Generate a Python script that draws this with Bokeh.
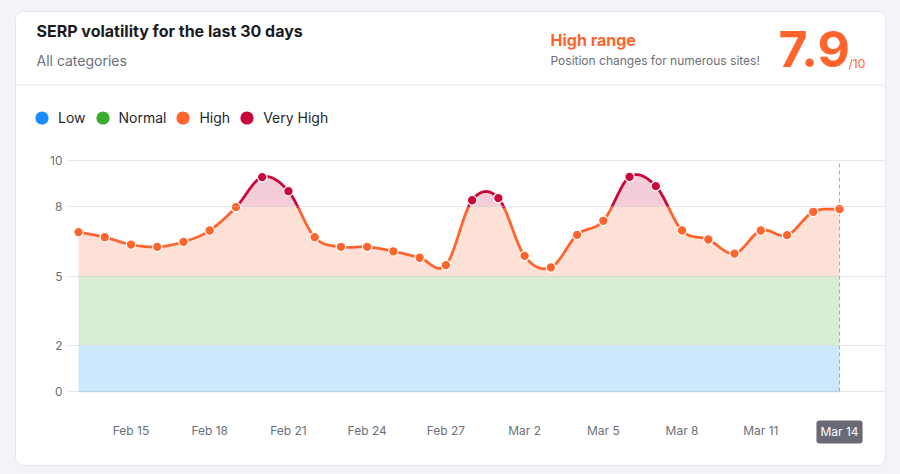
import numpy as np
import pandas as pd
from bokeh.plotting import figure
from bokeh.layouts import column
from bokeh.models import (Range1d, FixedTicker, Label, Span, Legend, LegendItem,
                          ColumnDataSource, DatetimeTickFormatter)
from bokeh.embed import file_html
from bokeh.resources import INLINE

# ---------------- data ----------------
start_date = "2025-02-13"
volatility = [6.90, 6.68, 6.36, 6.26, 6.48, 6.97, 7.98, 9.28, 8.67, 6.68,
              6.26, 6.26, 6.07, 5.79, 5.47, 8.28, 8.37, 5.87, 5.37, 6.78,
              7.39, 9.29, 8.89, 6.97, 6.58, 5.97, 6.97, 6.77, 7.78, 7.90]
tick_dates = ["2025-02-15", "2025-02-18", "2025-02-21", "2025-02-24", "2025-02-27",
              "2025-03-02", "2025-03-05", "2025-03-08", "2025-03-11", "2025-03-14"]
last_label = "Mar 14"
y_ticks = [0, 2, 5, 8, 10]
band_names = ["Low", "Normal", "High", "Very High"]
band_bounds = [0, 2, 5, 8, 10]
band_line_colors = ["#1a8cff", "#3bab2f", "#ff642d", "#c8073b"]
band_fill_colors = ["#cce8fd", "#d9edd4", "#fde0d6", "#f5cdd8"]
score = "7.9"

FONT = "Inter"
ORANGE = "#ff642d"
RED = "#c8073b"
GRAY = "#6b6f7a"
PAGE_BG = "#f3f4f8"

# card / layout geometry (canvas px)
CARD_L, CARD_T, CARD_R, CARD_B = 16, 12, 885, 465
CARD_W, CARD_H = CARD_R - CARD_L, CARD_B - CARD_T
SPLIT = 135                # header figure / chart figure boundary
PLOT_L, PLOT_R = 78, 839   # first / last day
Y0_PX, Y10_PX = 391, 160   # value 0 / value 10
FRAME_L = 66
XAXIS_PANEL = 20

# ---------------- data prep ----------------
dates = pd.date_range(start_date, periods=len(volatility), freq="D")
xs = (dates.astype("int64") // 10**6).to_numpy().astype(float)
ys = np.array(volatility)
ticks_ms = [int(pd.Timestamp(d).value // 10**6) for d in tick_dates]

# smooth curve (cubic Hermite / Catmull-Rom through the points)
n = len(ys)
m = np.empty(n)
m[1:-1] = (ys[2:] - ys[:-2]) / 2
m[0] = ys[1] - ys[0]
m[-1] = ys[-1] - ys[-2]
t = np.linspace(0, 1, 41)[:-1]
h00 = 2 * t**3 - 3 * t**2 + 1
h10 = t**3 - 2 * t**2 + t
h01 = -2 * t**3 + 3 * t**2
h11 = t**3 - t**2
cx_list, cy_list = [], []
for i in range(n - 1):
    cx_list.append(xs[i] + (xs[i + 1] - xs[i]) * t)
    cy_list.append(h00 * ys[i] + h10 * m[i] + h01 * ys[i + 1] + h11 * m[i + 1])
cx_list.append([xs[-1]])
cy_list.append([ys[-1]])
sx = np.concatenate(cx_list)
sy = np.concatenate(cy_list)

hi = band_bounds[3]
above = sy > hi
above_n = above | np.r_[above[1:], False] | np.r_[False, above[:-1]]
below = ~above
below_n = below | np.r_[below[1:], False] | np.r_[False, below[:-1]]
red_y = np.where(above_n, sy, np.nan)
orange_y = np.where(below_n, sy, np.nan)

# ---------------- header figure ----------------
hdr_h = SPLIT - CARD_T
hdr = figure(width=CARD_W, height=hdr_h, output_backend="svg", toolbar_location=None,
             x_range=Range1d(CARD_L, CARD_R), y_range=Range1d(SPLIT, CARD_T),
             x_axis_location=None, y_axis_location=None, min_border=0)
hdr.grid.visible = False
hdr.outline_line_color = None
hdr.background_fill_color = "white"
hdr.border_fill_color = "white"
hdr.add_layout(Span(location=84.5, dimension="width", line_color="#e6e7ec", line_width=1))


def lab(text, x, y, size, color, bold=False):
    hdr.add_layout(Label(x=x, y=y - 0.39 * size, text=text, text_font=FONT,
                         text_font_size=f"{size}px",
                         text_color=color, text_align="left",
                         text_baseline="alphabetic",
                         text_font_style="bold" if bold else "normal"))


lab("SERP volatility for the last 30 days", 36, 37, 16, "#1b1c22", bold=True)
lab("All categories", 36, 65, 14, GRAY)
lab("High range", 550, 46, 16, ORANGE, bold=True)
lab("Position changes for numerous sites!", 550, 65, 12, GRAY)
lab(score, 778, 68, 50, ORANGE, bold=True)
lab("/10", 848, 68, 12, ORANGE)

GLYPH_BOX = 33
items = []
for name, col in zip(band_names, band_line_colors):
    r = hdr.scatter(x=[-1000], y=[-1000], size=13, fill_color=col, line_color=None)
    items.append(LegendItem(label=name, renderers=[r]))
legend = Legend(items=items, orientation="horizontal",
                location=(41.5 - GLYPH_BOX / 2 - CARD_L, SPLIT - (117 + GLYPH_BOX / 2)),
                padding=0, margin=0, spacing=0, label_standoff=0,
                glyph_width=GLYPH_BOX, glyph_height=GLYPH_BOX,
                label_text_font=FONT, label_text_font_size="14px",
                label_text_color="#25272e", background_fill_alpha=0,
                border_line_color=None)
hdr.add_layout(legend)

# ---------------- chart figure ----------------
chart_h = CARD_B - SPLIT
frame_top, frame_bot = SPLIT, CARD_B - XAXIS_PANEL
ppu = (Y0_PX - Y10_PX) / 10.0
y_start = -(frame_bot - Y0_PX) / ppu
y_end = 10 + (Y10_PX - frame_top) / ppu
day_ms = xs[1] - xs[0]
ppd = (PLOT_R - PLOT_L) / (n - 1)
x_start = xs[0] - (PLOT_L - FRAME_L) / ppd * day_ms
x_end = xs[-1] + (CARD_R - PLOT_R) / ppd * day_ms

p = figure(width=CARD_W, height=chart_h, x_axis_type="datetime", output_backend="svg",
           toolbar_location=None, x_range=Range1d(x_start, x_end),
           y_range=Range1d(y_start, y_end),
           min_border_left=FRAME_L - CARD_L, min_border_right=0,
           min_border_top=0, min_border_bottom=XAXIS_PANEL)
p.border_fill_color = "white"
p.background_fill_color = "white"
p.outline_line_color = None

for fig in (hdr, p):
    try:
        fig.frame_align = False
    except Exception:
        pass

# bands
x_full = [xs[0], xs[-1]]
for lo, hi_b, col in zip(band_bounds[:2], band_bounds[1:3], band_fill_colors[:2]):
    p.varea(x=x_full, y1=[lo, lo], y2=[hi_b, hi_b], fill_color=col, level="underlay")
p.varea(x=sx, y1=np.full_like(sy, band_bounds[2]), y2=np.minimum(sy, hi),
        fill_color=band_fill_colors[2], level="underlay")
p.varea(x=sx, y1=np.full_like(sy, hi), y2=np.maximum(sy, hi),
        fill_color=band_fill_colors[3], level="underlay")
p.line(x=x_full, y=[0, 0], line_color="#b7d3ec", line_width=1.5, level="underlay")

# grid
p.xgrid.grid_line_color = None
p.ygrid.ticker = FixedTicker(ticks=y_ticks)
p.ygrid.bounds = (xs[0], xs[-1])
p.ygrid.grid_line_color = "#c9ccd3"
p.ygrid.grid_line_alpha = 0.45
p.ygrid.level = "glyph"

# vertical dashed marker at last day
p.segment(x0=[xs[-1]], y0=[band_bounds[0]], x1=[xs[-1]], y1=[band_bounds[-1]],
          line_color="#a9acb4", line_dash="4 3", line_width=1)

# curve
p.line(sx, orange_y, line_color=ORANGE, line_width=2.8)
p.line(sx, red_y, line_color=RED, line_width=2.8)
pt_colors = [RED if v > hi else ORANGE for v in volatility]
src = ColumnDataSource(dict(x=xs, y=ys, c=pt_colors))
p.scatter("x", "y", source=src, size=9.5, fill_color="c", line_color="white",
          line_width=1.2)

# axes
p.yaxis.ticker = FixedTicker(ticks=y_ticks)
p.yaxis.axis_line_color = None
p.yaxis.major_tick_line_color = None
p.yaxis.minor_tick_line_color = None
p.yaxis.major_tick_out = 0
p.yaxis.major_tick_in = 0
p.yaxis.major_label_standoff = 4
p.yaxis.major_label_text_color = GRAY
p.yaxis.major_label_text_font = FONT
p.yaxis.major_label_text_font_size = "12px"

p.xaxis.ticker = FixedTicker(ticks=ticks_ms)
p.xaxis.formatter = DatetimeTickFormatter(days="%b %-d", months="%b %-d",
                                          hours="%b %-d", years="%b %-d")
p.xaxis.major_label_overrides = {ticks_ms[-1]: ""}
p.xaxis.fixed_location = -1.35
p.xaxis.axis_line_color = None
p.xaxis.major_tick_line_color = None
p.xaxis.minor_tick_line_color = None
p.xaxis.major_tick_out = 0
p.xaxis.major_tick_in = 0
p.xaxis.major_label_standoff = 0
p.xaxis.major_label_text_color = GRAY
p.xaxis.major_label_text_font = FONT
p.xaxis.major_label_text_font_size = "12px"

badge = Label(x=ticks_ms[-1], y=-1.75, text=last_label,
              text_align="center", text_baseline="middle", text_color="white",
              text_font=FONT, text_font_size="12px",
              background_fill_color="#686b76", background_fill_alpha=1,
              border_radius=3, padding=4)
p.add_layout(badge)

card = column(hdr, p, width=CARD_W, height=CARD_H,
              margin=(CARD_T, 900 - CARD_R, 474 - CARD_B, CARD_L),
              styles={"background-color": "white", "border-radius": "8px",
                      "overflow": "hidden", "box-shadow": "0 0 0 1px #e4e6ec"})
page = column(card, width=900, height=474, styles={"background-color": PAGE_BG})

open("out.html", "w").write(file_html(page, INLINE))
